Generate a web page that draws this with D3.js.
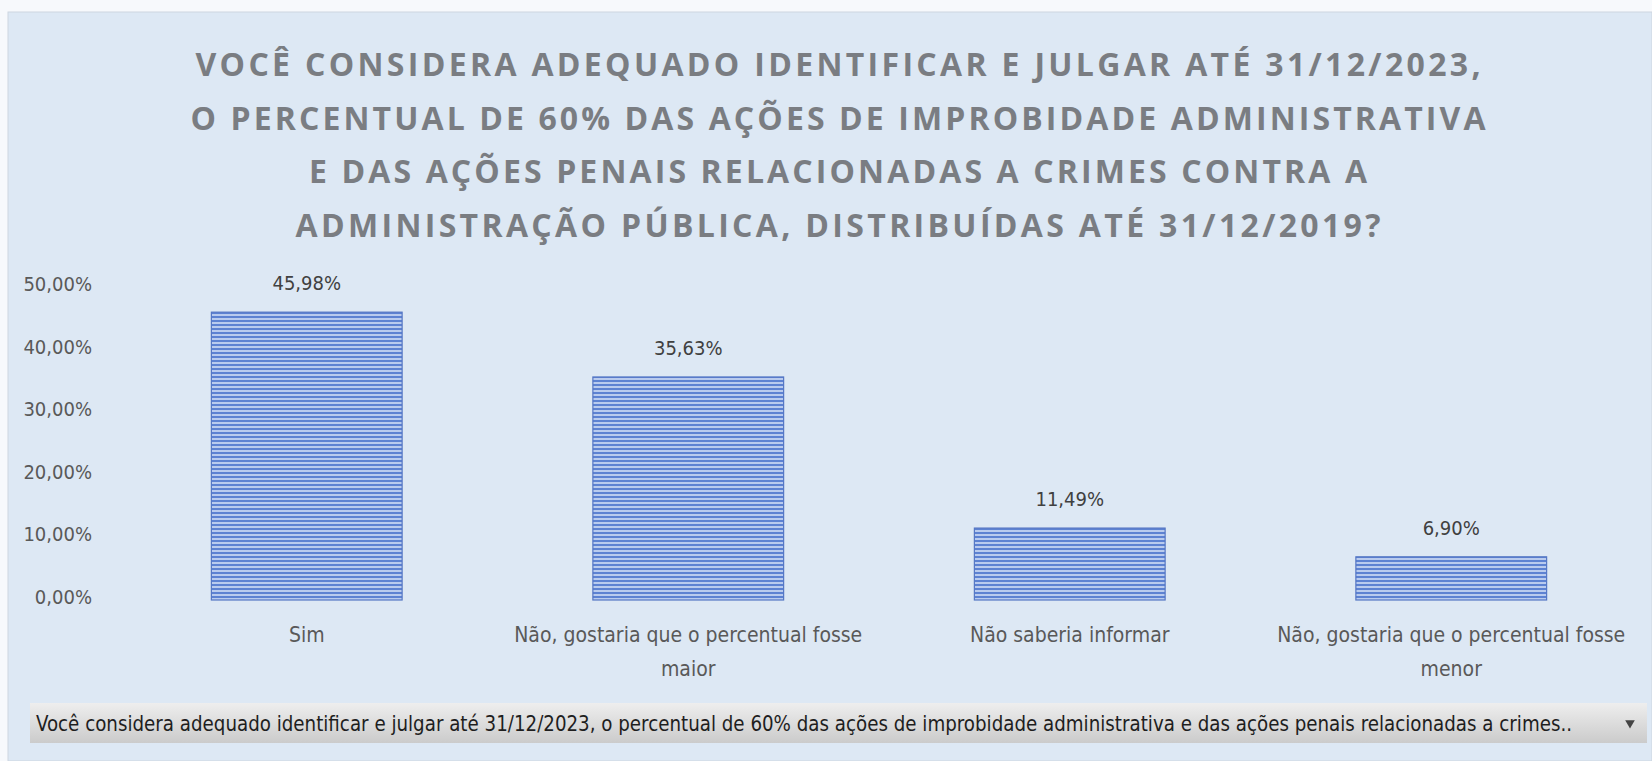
<!DOCTYPE html>
<html>
<head>
<meta charset="utf-8">
<script src="https://cdn.jsdelivr.net/npm/d3@7"></script>
<style>
  html, body { margin: 0; padding: 0; background: #f7f9fc; }
  svg { display: block; }
  .axisText { font-family: "Liberation Sans Narrow", "DejaVu Sans Condensed", Roboto, sans-serif; fill: #595959; }
  .title { font-family: "Open Sans", sans-serif; font-weight: 700; fill: #7a7d82; }
</style>
</head>
<body>
<div id="chart"></div>
<script>
// chart values
var titleLines = [
  "VOCÊ CONSIDERA ADEQUADO IDENTIFICAR E JULGAR ATÉ 31/12/2023,",
  "O PERCENTUAL DE 60% DAS AÇÕES DE IMPROBIDADE ADMINISTRATIVA",
  "E DAS AÇÕES PENAIS RELACIONADAS A CRIMES CONTRA A",
  "ADMINISTRAÇÃO PÚBLICA, DISTRIBUÍDAS ATÉ 31/12/2019?"
];
var categories = [
  "Sim",
  "Não, gostaria que o percentual fosse maior",
  "Não saberia informar",
  "Não, gostaria que o percentual fosse menor"
];
var values = [45.98, 35.63, 11.49, 6.90];
var yTicks = [0, 10, 20, 30, 40, 50];
var filterText = "Você considera adequado identificar e julgar até 31/12/2023, o percentual de 60% das ações de improbidade administrativa e das ações penais relacionadas a crimes..";

var width = 1652, height = 761;
// widths of the title lines as seen in the picture
var titleWidths = [1285, 1295, 1058, 1085];

var ptBR = d3.formatLocale({decimal: ",", thousands: ".", grouping: [3], currency: ["R$", ""]});
var pct = function(v){ return ptBR.format(".2f")(v) + "%"; };

var svg = d3.select("#chart").append("svg")
    .attr("width", width)
    .attr("height", height);

var defs = svg.append("defs");

// horizontal stripe fill for the bars
var pat = defs.append("pattern")
    .attr("id", "stripes")
    .attr("patternUnits", "userSpaceOnUse")
    .attr("width", 8)
    .attr("height", 4);
pat.append("rect").attr("width", 8).attr("height", 4).attr("fill", "#b9cbee");
pat.append("rect").attr("y", 0).attr("width", 8).attr("height", 2).attr("fill", "#5d82d2");

var grad = defs.append("linearGradient")
    .attr("id", "dropGrad")
    .attr("x1", 0).attr("y1", 0).attr("x2", 0).attr("y2", 1);
grad.append("stop").attr("offset", "0%").attr("stop-color", "#eeeeee");
grad.append("stop").attr("offset", "100%").attr("stop-color", "#cbcbcb");

// panel background
svg.append("rect")
    .attr("x", 8).attr("y", 12)
    .attr("width", width - 8).attr("height", height - 12)
    .attr("fill", "#dde8f4")
    .attr("stroke", "#cdd6e0");

// title
svg.append("g").selectAll("text")
    .data(titleLines)
    .join("text")
    .attr("class", "title")
    .attr("x", 838)
    .attr("y", function(d, i){ return 76 + i * 53.7; })
    .attr("text-anchor", "middle")
    .attr("textLength", function(d, i){ return titleWidths[i]; })
    .attr("lengthAdjust", "spacing")
    .style("font-size", "32px")
    .text(function(d){ return d; });

var x = d3.scaleBand()
    .domain(categories)
    .range([116, 1642])
    .paddingInner(0.5)
    .paddingOuter(0.25);

var y = d3.scaleLinear()
    .domain([0, 50])
    .range([600, 287]);

// y axis labels
svg.append("g").selectAll("text")
    .data(yTicks)
    .join("text")
    .attr("class", "axisText")
    .attr("x", 92)
    .attr("y", function(d){ return y(d) + 4; })
    .attr("text-anchor", "end")
    .style("font-size", "20px")
    .text(function(d){ return pct(d); });

// bars
svg.append("g").selectAll("rect")
    .data(values)
    .join("rect")
    .attr("x", function(d, i){ return x(categories[i]); })
    .attr("y", function(d){ return y(d); })
    .attr("width", x.bandwidth())
    .attr("height", function(d){ return y(0) - y(d); })
    .attr("fill", "url(#stripes)")
    .attr("stroke", "#5677c4")
    .attr("stroke-width", 1.2);

// data labels
svg.append("g").selectAll("text")
    .data(values)
    .join("text")
    .attr("class", "axisText")
    .attr("x", function(d, i){ return x(categories[i]) + x.bandwidth() / 2; })
    .attr("y", function(d){ return y(d) - 22; })
    .attr("text-anchor", "middle")
    .style("fill", "#404040")
    .style("font-size", "20px")
    .text(function(d){ return pct(d); });

// category labels, wrapped
var catG = svg.append("g").selectAll("text")
    .data(categories)
    .join("text")
    .attr("class", "axisText")
    .attr("x", function(d){ return x(d) + x.bandwidth() / 2; })
    .attr("y", 642)
    .attr("text-anchor", "middle")
    .style("font-size", "21px");

catG.each(function(d){
    var t = d3.select(this), words = d.split(" "), line = [];
    var cx = x(d) + x.bandwidth() / 2;
    var tspan = t.append("tspan").attr("x", cx).attr("dy", 0);
    words.forEach(function(w){
        line.push(w);
        tspan.text(line.join(" "));
        if (tspan.node().getComputedTextLength() > 360 && line.length > 1) {
            line.pop();
            tspan.text(line.join(" "));
            line = [w];
            tspan = t.append("tspan").attr("x", cx).attr("dy", 34).text(w);
        }
    });
});

// filter dropdown at the bottom
svg.append("rect")
    .attr("x", 30).attr("y", 703)
    .attr("width", 1617).attr("height", 40)
    .attr("fill", "url(#dropGrad)");

svg.append("text")
    .attr("x", 36)
    .attr("y", 731)
    .attr("textLength", 1536)
    .attr("lengthAdjust", "spacingAndGlyphs")
    .style("font-family", "'Liberation Sans Narrow', 'DejaVu Sans Condensed', Roboto, sans-serif")
    .style("font-size", "21px")
    .style("fill", "#1e1e1e")
    .text(filterText);

svg.append("path")
    .attr("d", d3.symbol().type(d3.symbolTriangle).size(40)())
    .attr("transform", "translate(1630,723) rotate(180)")
    .attr("fill", "#444");
</script>
</body>
</html>
